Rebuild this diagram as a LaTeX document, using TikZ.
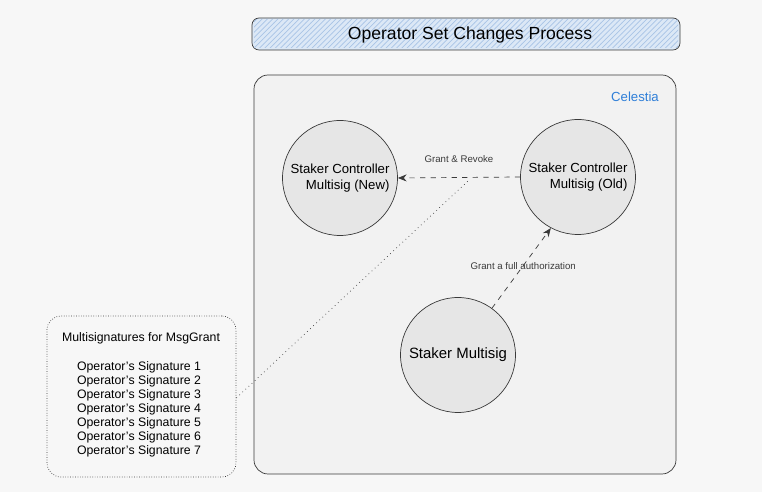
\documentclass[tikz,border=0pt]{standalone}
\usepackage{fontspec}
\setmainfont{Liberation Sans}
\usetikzlibrary{arrows.meta,shapes,positioning,calc,patterns}

\definecolor{titleblue}{HTML}{DCE8F6}
\definecolor{hatchblue}{HTML}{A9C4E6}
\definecolor{framefill}{HTML}{F2F2F2}
\definecolor{circfill}{HTML}{E6E6E6}
\definecolor{celblue}{HTML}{2F7FD8}
\definecolor{inkgray}{HTML}{3A3A3A}

\tikzset{
  account/.style={circle, draw=inkgray, fill=circfill, thin, minimum size=2.3cm,
    inner sep=0pt, font=\fontsize{7.5}{9}\selectfont, align=right},
  grant/.style={-{Stealth[length=5pt,width=4pt]}, dashed, inkgray, thin},
  edgelabel/.style={font=\fontsize{5.5}{7}\selectfont, text=inkgray},
  sigtext/.style={font=\fontsize{7}{8}\selectfont}
}

\begin{document}
\begin{tikzpicture}[x=0.02cm, y=-0.02cm]
          % Page
          \useasboundingbox[fill=white!97!black] (0,0) rectangle (762,492);

          % Title
          \draw[inkgray, fill=titleblue, rounded corners=4pt] (252,18) rectangle (680,50);
          \fill[pattern=north east lines, pattern color=hatchblue] (254,20) rectangle (678,48);
          \node[font=\fontsize{10}{12}\selectfont] (title) at (470,35) {Operator Set Changes Process};

          % Celestia frame
          \draw[inkgray, fill=framefill, rounded corners=8pt] (254,75) rectangle (676,474);
          \node[text=celblue, font=\fontsize{7.5}{9}\selectfont] (chain) at (635,97) {Celestia};

          % Accounts
          \node[account] (new) at (340,178) {Staker Controller\\Multisig (New)};
          \node[account] (old) at (578,177) {Staker Controller\\Multisig (Old)};
          \node[account, font=\fontsize{8.5}{10}\selectfont] (staker) at (458,355) {Staker Multisig};

          % Draw grants
          \draw[grant] (old.west) -- node[edgelabel, above=5pt] {Grant \& Revoke} (new.east);
          \draw[grant] (staker.54) -- node[edgelabel, pos=0.53] {Grant a full authorization} (old.242);

          % Signatures
          \node[draw=inkgray, densely dotted, rounded corners=8pt, minimum width=3.78cm,
                minimum height=3.22cm] (sigs) at (141.5,396.5) {};
          \node[sigtext] (sigtitle) at (141,338) {Multisignatures for MsgGrant};
          \foreach \i in {1,...,7}
              \node[sigtext] (sig\i) at (139,353+14*\i) {Operator's Signature \i};

          % Link signatures to the grant
          \coordinate (g) at (468,181);
          \draw[inkgray, dotted, thin] (sigs.east |- 0,398) -- (g);
\end{tikzpicture}
\end{document}
